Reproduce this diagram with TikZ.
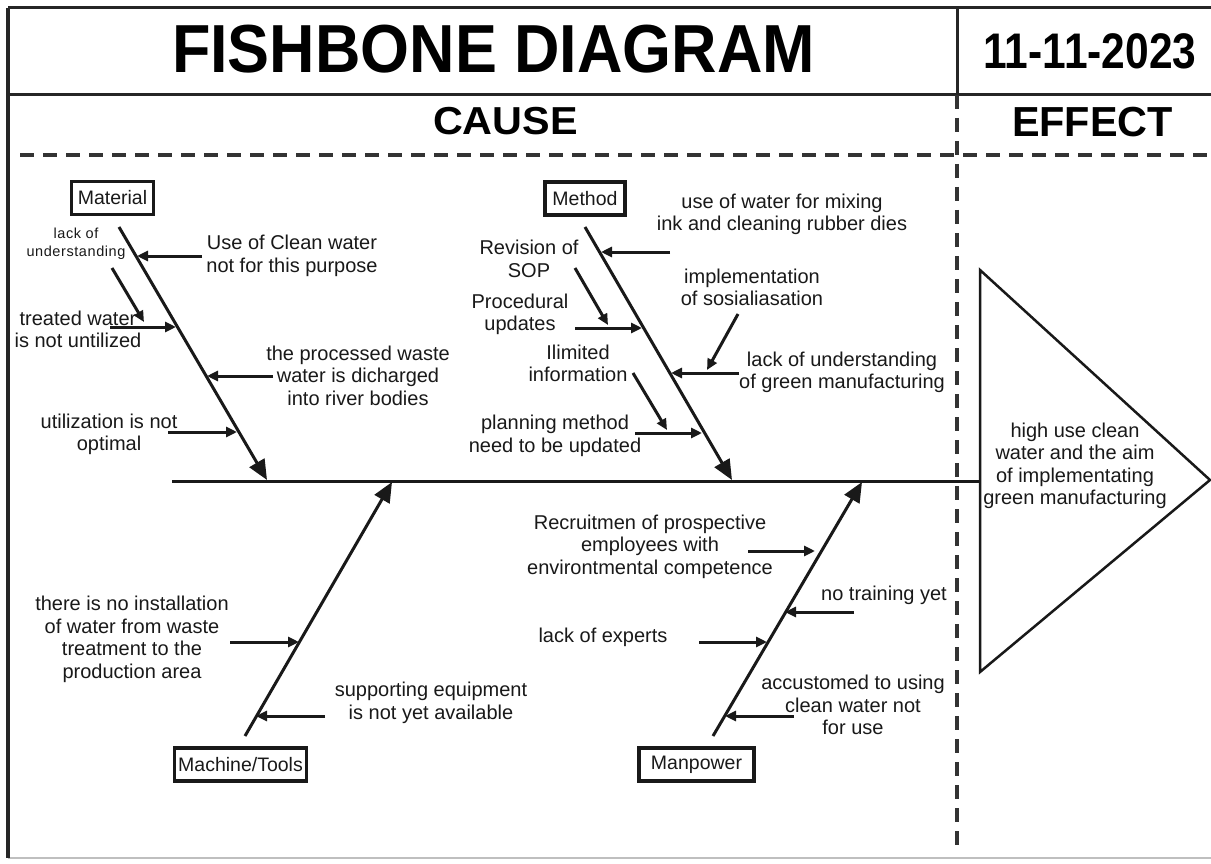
\documentclass[tikz,border=0pt]{standalone}
\usepackage{fontspec}
\setmainfont{Liberation Sans}
\newfontfamily\spaced[LetterSpace=4]{Liberation Sans}
\usetikzlibrary{arrows.meta}
\begin{document}
\begin{tikzpicture}[x=1pt,y=-1pt,
  frame/.style={line width=3pt, draw=black!85},
  dline/.style={line width=3.5pt, draw=black!80, dash pattern=on 14pt off 9pt},
  head/.style={font=\fontsize{#1}{#1}\selectfont\bfseries, inner sep=0pt},
  txt/.style={font=\fontsize{20}{22.5}\selectfont, align=center, inner sep=0pt, text=black!90},
  small/.style={font=\spaced\fontsize{14.5}{18}\selectfont, align=center, inner sep=0pt, text=black!90},
  cat/.style={draw=black!90, line width=3.5pt, font=\fontsize{19.5}{22}\selectfont, inner sep=0pt, text=black!90},
  bone/.style={line width=3pt, draw=black!90, -{Triangle[length=20pt,width=17pt]}},
  sub/.style={line width=3pt, draw=black!90, -{Triangle[length=11pt,width=10pt]}},
  spine/.style={line width=3pt, draw=black!90}]
\useasboundingbox (0,0) rectangle (1211,864);
\fill[white] (0,0) rectangle (1211,864);

% ---- frame / header ----
\coordinate (tl) at (8,8);
\coordinate (tr) at (1211,8);
\coordinate (bl) at (8,858);
\coordinate (br) at (1211,858);
\coordinate (rl) at (8,95);
\coordinate (rr) at (1211,95);
\coordinate (vt) at (957,8);
\coordinate (vm) at (957,95);
\coordinate (vb) at (957,850);
\coordinate (hl) at (20,155);
\coordinate (hr) at (1211,155);
\draw[line width=1.2pt, draw=black!25] (bl) -- (br);
\draw[frame] (tl) -- (tr);
\draw[frame, line width=3.5pt] (tl) -- (bl);
\draw[frame] (rl) -- (rr);
\draw[frame] (vt) -- (vm);
\draw[dline] (vm) -- (vb);
\draw[dline] (hl) -- (hr);

\node[head=68, xscale=0.925] (title) at (493.5,49.5) {FISHBONE DIAGRAM};
\node[head=50, xscale=0.85] (date) at (1090,51.5) {11-11-2023};
\node[head=39, xscale=1.06] (cause) at (505.5,121) {CAUSE};
\node[head=42, xscale=0.985] (effect) at (1092.5,122) {EFFECT};

% ---- spine and effect ----
\coordinate (sp1) at (172,481);
\coordinate (sp2) at (980,481);
\coordinate (e1) at (980,270);
\coordinate (e2) at (1210,480);
\coordinate (e3) at (980,672);
\draw[spine] (sp1) -- (sp2);
\draw[line width=2.5pt, draw=black!90, line join=miter] (e1) -- (e2) -- (e3) -- cycle;
\node[txt] (eff) at (1075,466) {high use clean\\water and the aim\\of implementating\\green manufacturing};

% ---- categories ----
\node[cat, minimum width=82pt, minimum height=33pt] (mat) at (112.5,198) {Material};
\node[cat, minimum width=80pt, minimum height=33pt] (met) at (585,198.5) {Method};
\node[cat, minimum width=132pt, minimum height=33pt] (mac) at (240.5,764.5) {Machine/Tools};
\node[cat, minimum width=115pt, minimum height=33pt] (man) at (696.5,764.5) {Manpower};

% ---- bones ----
\coordinate (matS) at (119,227);  \coordinate (matE) at (267,480);
\coordinate (metS) at (585,227);  \coordinate (metE) at (732,480);
\coordinate (macS) at (245,736);  \coordinate (macE) at (392,482);
\coordinate (manS) at (713,736);  \coordinate (manE) at (862,482);
\draw[bone] (matS) -- (matE);
\draw[bone] (metS) -- (metE);
\draw[bone] (macS) -- (macE);
\draw[bone] (manS) -- (manE);

% ---- Material causes ----
\node[txt] (t1) at (292,256) {Use of Clean water\\not for this purpose};
\node[small] (t2) at (76,244) {lack of\\understanding};
\node[txt] (t3) at (78,329.5) {treated water\\is not untilized};
\node[txt] (t4) at (358,375.5) {the processed waste\\water is dicharged\\into river bodies};
\node[txt] (t5) at (109,434.5) {utilization is not\\optimal};
\coordinate (a1s) at (202,256); \coordinate (a1e) at (137,256);
\coordinate (a2s) at (112,268); \coordinate (a2e) at (144,322);
\coordinate (a3s) at (110,327); \coordinate (a3e) at (176,327);
\coordinate (a4s) at (273,376); \coordinate (a4e) at (207,376);
\coordinate (a5s) at (168,432); \coordinate (a5e) at (237,432);
\draw[sub] (a1s) -- (a1e);
\draw[sub] (a2s) -- (a2e);
\draw[sub] (a3s) -- (a3e);
\draw[sub] (a4s) -- (a4e);
\draw[sub] (a5s) -- (a5e);

% ---- Method causes ----
\node[txt] (t6) at (782,214.5) {use of water for mixing\\ink and cleaning rubber dies};
\node[txt] (t7) at (529,259) {Revision of\\SOP};
\node[txt] (t8) at (520,314.5) {Procedural\\updates};
\node[txt] (t9) at (578,363.5) {Ilimited\\information};
\node[txt] (t10) at (555,436) {planning method\\need to be updated};
\node[txt] (t11) at (752,287.5) {implementation\\of sosialiasation};
\node[txt] (t12) at (842,372.5) {lack of understanding\\of green manufacturing};
\coordinate (b1s) at (670,252); \coordinate (b1e) at (601,252);
\coordinate (b2s) at (575,268); \coordinate (b2e) at (608,325);
\coordinate (b3s) at (575,328); \coordinate (b3e) at (642,328);
\coordinate (b4s) at (633,373); \coordinate (b4e) at (667,430);
\coordinate (b5s) at (635,433); \coordinate (b5e) at (702,433);
\coordinate (b6s) at (738,314); \coordinate (b6e) at (707,370);
\coordinate (b7s) at (739,373); \coordinate (b7e) at (671,373);
\draw[sub] (b1s) -- (b1e);
\draw[sub] (b2s) -- (b2e);
\draw[sub] (b3s) -- (b3e);
\draw[sub] (b4s) -- (b4e);
\draw[sub] (b5s) -- (b5e);
\draw[sub] (b6s) -- (b6e);
\draw[sub] (b7s) -- (b7e);

% ---- Machine causes ----
\node[txt] (t13) at (132,639.5) {there is no installation\\of water from waste\\treatment to the\\production area};
\node[txt] (t14) at (431,703) {supporting equipment\\is not yet available};
\coordinate (c1s) at (230,642); \coordinate (c1e) at (299,642);
\coordinate (c2s) at (325,716); \coordinate (c2e) at (256,716);
\draw[sub] (c1s) -- (c1e);
\draw[sub] (c2s) -- (c2e);

% ---- Manpower causes ----
\node[txt] (t15) at (650,546.5) {Recruitmen of prospective\\employees with\\environtmental competence};
\node[txt] (t16) at (884,595) {no training yet};
\node[txt] (t17) at (603,637) {lack of experts};
\node[txt] (t18) at (853,705) {accustomed to using\\clean water not\\for use};
\coordinate (d1s) at (748,551); \coordinate (d1e) at (815,551);
\coordinate (d2s) at (854,612); \coordinate (d2e) at (785,612);
\coordinate (d3s) at (699,642); \coordinate (d3e) at (767,642);
\coordinate (d4s) at (794,716); \coordinate (d4e) at (725,716);
\draw[sub] (d1s) -- (d1e);
\draw[sub] (d2s) -- (d2e);
\draw[sub] (d3s) -- (d3e);
\draw[sub] (d4s) -- (d4e);
\end{tikzpicture}
\end{document}
